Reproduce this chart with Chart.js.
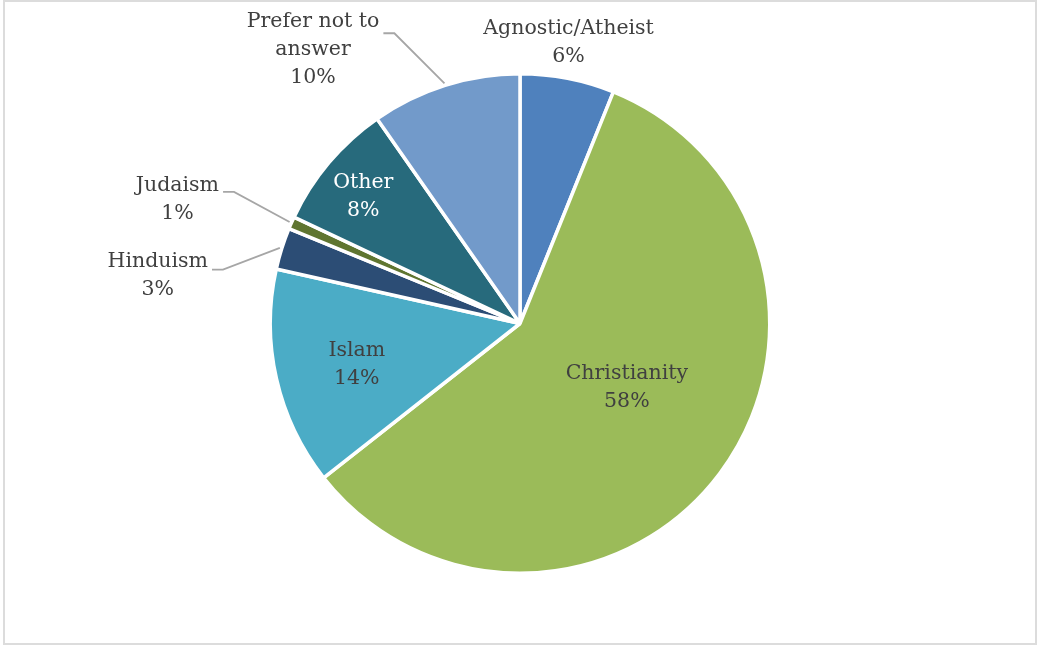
<!DOCTYPE html>
<html>
<head>
<meta charset="utf-8">
<script src="https://cdn.jsdelivr.net/npm/chart.js@4/dist/chart.umd.min.js"></script>
<style>
  html, body { margin: 0; padding: 0; background: #fff; }
  .frame {
    position: absolute; left: 3px; top: 0; width: 1030px; height: 641px;
    border: 2px solid #dcdcdc;
  }
  #religion-chart { position: absolute; left: 0; top: 0; }
</style>
</head>
<body>
<div class="frame"></div>
<canvas id="religion-chart" width="1038" height="646"></canvas>
<script>
const categories = [
  "Agnostic/Atheist",
  "Christianity",
  "Islam",
  "Hinduism",
  "Judaism",
  "Other",
  "Prefer not to answer",
];
const shares = [6.1, 58.3, 14.1, 2.7, 0.8, 8.3, 9.7];
const sliceColors = ["#4f81bd", "#9bbb59", "#4bacc6", "#2c4d75", "#5f7530", "#276a7c", "#729aca"];

// label placement: anchor on the slice's mid-angle at radius * f, then nudged by dx/dy
const labelStyle = [
  { f: 1, dx: 1, dy: -36, color: "#404040", wrap: 200 },
  { f: 0.5, dx: 7, dy: -11, color: "#404040", wrap: 200 },
  { f: 0.67, dx: 0, dy: 4, color: "#404040", wrap: 200 },
  { f: 1, dx: -124, dy: 27, color: "#404040", wrap: 200, leaderDy: -6 },
  { f: 1, dx: -114, dy: -23, color: "#404040", wrap: 200, leaderDy: -8 },
  { f: 0.8, dx: -4, dy: 2, color: "#ffffff", wrap: 200 },
  { f: 1, dx: -132, dy: -36, color: "#404040", wrap: 140, leaderDy: -16 },
];

const FONT = "20.5px 'DejaVu Serif'";
const LINE_H = 28;

function wrapText(ctx, text, maxWidth) {
  const words = text.split(" ");
  const lines = [];
  let cur = "";
  words.forEach((w) => {
    const test = cur ? cur + " " + w : w;
    if (cur && ctx.measureText(test).width > maxWidth) {
      lines.push(cur);
      cur = w;
    } else {
      cur = test;
    }
  });
  if (cur) lines.push(cur);
  return lines;
}

const sliceLabels = {
  id: "sliceLabels",
  afterDatasetsDraw(chart) {
    const ctx = chart.ctx;
    const arcs = chart.getDatasetMeta(0).data;
    ctx.save();
    ctx.font = FONT;
    ctx.textAlign = "center";
    ctx.textBaseline = "middle";
    arcs.forEach((arc, i) => {
      const p = arc.getProps(["x", "y", "startAngle", "endAngle", "outerRadius"], true);
      const mid = (p.startAngle + p.endAngle) / 2;
      const st = labelStyle[i];
      const ex = p.x + Math.cos(mid) * p.outerRadius;
      const ey = p.y + Math.sin(mid) * p.outerRadius;
      const cx = p.x + Math.cos(mid) * p.outerRadius * st.f + st.dx;
      const cy = p.y + Math.sin(mid) * p.outerRadius * st.f + st.dy;

      const lines = wrapText(ctx, categories[i], st.wrap);
      lines.push(Math.round(shares[i]) + "%");
      const top = cy - ((lines.length - 1) * LINE_H) / 2;

      if (st.leaderDy !== undefined) {
        const w = Math.max(...lines.map((l) => ctx.measureText(l).width));
        const ly = cy + st.leaderDy;
        const lx = cx + w / 2 + 4;
        ctx.strokeStyle = "#a6a6a6";
        ctx.lineWidth = 1.8;
        ctx.beginPath();
        ctx.moveTo(lx, ly);
        ctx.lineTo(lx + 11, ly);
        ctx.lineTo(ex + Math.cos(mid) * 2, ey + Math.sin(mid) * 2);
        ctx.stroke();
      }

      ctx.fillStyle = st.color;
      lines.forEach((l, k) => ctx.fillText(l, cx, top + k * LINE_H));
    });
    ctx.restore();
  },
};

new Chart(document.getElementById("religion-chart").getContext("2d"), {
  type: "pie",
  data: {
    labels: categories,
    datasets: [
      {
        data: shares,
        backgroundColor: sliceColors,
        borderColor: "#ffffff",
        borderWidth: 3.5,
      },
    ],
  },
  options: {
    responsive: false,
    animation: false,
    layout: { padding: { top: 72, bottom: 71, left: 20, right: 18 } },
    plugins: {
      legend: { display: false },
      tooltip: { enabled: false },
    },
  },
  plugins: [sliceLabels],
});
</script>
</body>
</html>
